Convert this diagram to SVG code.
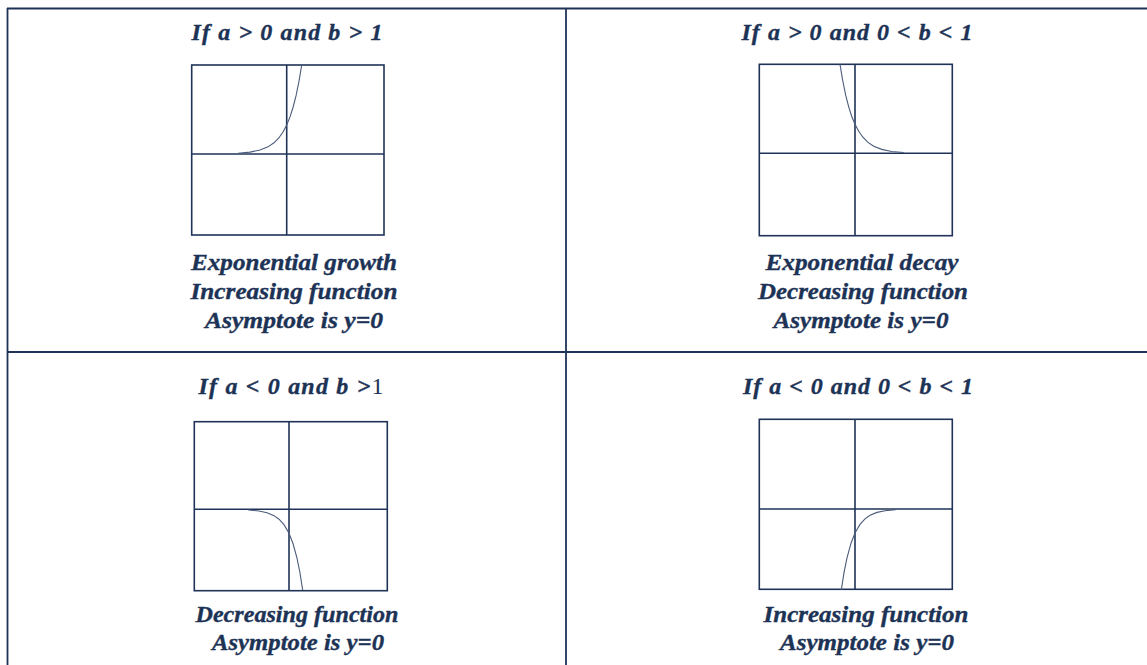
<svg xmlns="http://www.w3.org/2000/svg" width="1147" height="665" viewBox="0 0 1147 665">
<style>
.grid{stroke:#1e3357;stroke-width:1.8;fill:none}
.box{stroke:#1e3357;stroke-width:1.6;fill:#fff}
.ax{stroke:#1e3357;stroke-width:1.6;fill:none}
.cv{stroke:#4b5b7a;stroke-width:1.1;fill:none}
.t{font-family:"Liberation Serif","Times New Roman",serif;font-weight:bold;font-style:italic;fill:#1d3356;stroke:#1d3356;stroke-width:0.35;text-anchor:middle}
.h{font-size:24px}
.d{font-size:23.5px}
.r{font-style:normal;font-weight:normal;stroke-width:0}
</style>
<defs>
<path id="c1" d="M-48.7,-0.76 L-36.7,-1.86 L-26.7,-3.94 L-18.7,-7.16 L-12.7,-11.21 L-7.7,-16.3 L-3.7,-21.98 L0,-29 L3.3,-37.1 L6.3,-46.5 L9.3,-58.1 L12.3,-72.8 L15,-89"/>
<path id="c2" d="M-40.7,0.65 L-30,1.67 L-22,3.4 L-15,6.34 L-10,9.88 L-5,15.4 L0,24 L4,34.2 L8,48.8 L11,63.7 L13.7,81"/>
</defs>
<rect width="1147" height="665" fill="#fff"/>
<g id="table-grid">
<line class="grid" x1="7" y1="8.5" x2="1147" y2="8.5"/>
<line class="grid" x1="7.5" y1="8" x2="7.5" y2="665"/>
<line class="grid" x1="566" y1="8" x2="566" y2="665"/>
<line class="grid" x1="7" y1="352" x2="1147" y2="352"/>
</g>
<g id="case1">
<text class="t h" x="287" y="40" textLength="191" lengthAdjust="spacing">If a &gt; 0  and  b &gt; 1</text>
<rect class="box" x="191.7" y="65" width="192.3" height="170"/>
<line class="ax" x1="191.7" y1="154" x2="384" y2="154"/>
<line class="ax" x1="286.7" y1="65" x2="286.7" y2="235"/>
<use href="#c1" class="cv" transform="translate(286.7,154)"/>
<text class="t d" x="294" y="270" textLength="206" lengthAdjust="spacingAndGlyphs">Exponential growth</text>
<text class="t d" x="294" y="299" textLength="207" lengthAdjust="spacingAndGlyphs">Increasing function</text>
<text class="t d" x="294" y="328" textLength="178" lengthAdjust="spacingAndGlyphs">Asymptote is y=0</text>
</g>
<g id="case2">
<text class="t h" x="857" y="40" textLength="231" lengthAdjust="spacing">If a &gt; 0  and  0 &lt; b &lt; 1</text>
<rect class="box" x="759.3" y="64.3" width="193" height="171.4"/>
<line class="ax" x1="759.3" y1="153.3" x2="952.3" y2="153.3"/>
<line class="ax" x1="855" y1="64.3" x2="855" y2="235.7"/>
<use href="#c1" class="cv" transform="translate(855,153.3) scale(-1,1)"/>
<text class="t d" x="862" y="270" textLength="193" lengthAdjust="spacingAndGlyphs">Exponential decay</text>
<text class="t d" x="863" y="299" textLength="210" lengthAdjust="spacingAndGlyphs">Decreasing function</text>
<text class="t d" x="861" y="328" textLength="175" lengthAdjust="spacingAndGlyphs">Asymptote is y=0</text>
</g>
<g id="case3">
<text class="t h" x="291" y="394" textLength="185" lengthAdjust="spacing">If a &lt; 0  and  b &gt;<tspan class="r">1</tspan></text>
<rect class="box" x="194.3" y="421.7" width="193" height="169"/>
<line class="ax" x1="194.3" y1="509.3" x2="387.3" y2="509.3"/>
<line class="ax" x1="289" y1="421.7" x2="289" y2="590.7"/>
<use href="#c2" class="cv" transform="translate(289,509.3)"/>
<text class="t d" x="297" y="622" textLength="203" lengthAdjust="spacingAndGlyphs">Decreasing function</text>
<text class="t d" x="298" y="650" textLength="172" lengthAdjust="spacingAndGlyphs">Asymptote is y=0</text>
</g>
<g id="case4">
<text class="t h" x="858" y="394" textLength="230" lengthAdjust="spacing">If a &lt; 0  and  0 &lt; b &lt; 1</text>
<rect class="box" x="759.3" y="419.3" width="193" height="170"/>
<line class="ax" x1="759.3" y1="509" x2="952.3" y2="509"/>
<line class="ax" x1="855" y1="419.3" x2="855" y2="589.3"/>
<use href="#c2" class="cv" transform="translate(855,509) scale(-1,1)"/>
<text class="t d" x="866" y="622" textLength="205" lengthAdjust="spacingAndGlyphs">Increasing function</text>
<text class="t d" x="867" y="650" textLength="174" lengthAdjust="spacingAndGlyphs">Asymptote is y=0</text>
</g>
</svg>
